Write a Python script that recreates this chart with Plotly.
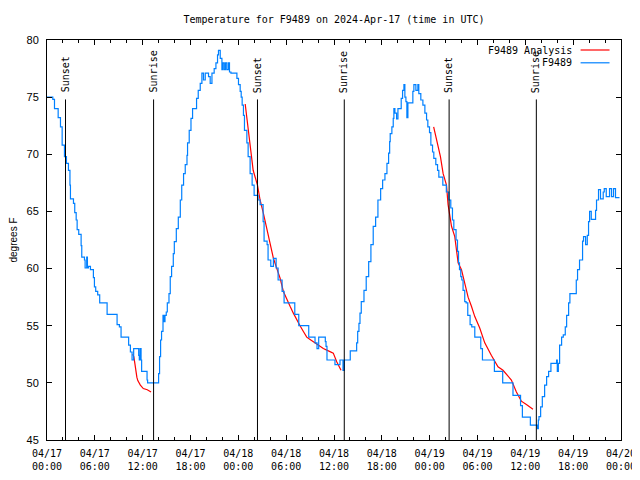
import pandas as pd
import plotly.graph_objects as go

# ---------------- data ----------------
base = pd.Timestamp("2024-04-17 00:00")

# F9489 observed temperature (hours since 04/17 00:00 UTC, deg F)
blue_h = [0.00, 0.73, 0.94, 1.40, 1.69, 1.90, 2.19, 2.44, 2.69, 2.88, 2.94, 3.32, 3.48, 3.66, 3.78, 3.98,
          4.28, 4.36, 4.70, 4.78, 4.98, 5.07, 5.20, 5.45, 5.82, 5.95, 6.11, 6.36, 6.61, 7.54, 8.79, 9.08,
          9.29, 10.24, 10.46, 10.67, 10.87, 11.50, 11.58, 11.67, 11.80, 11.87, 12.55, 12.62, 14.00, 14.12,
          14.25, 14.37, 14.55, 14.68, 14.80, 14.96, 15.09, 15.30, 15.46, 15.63, 15.84, 15.97, 16.22, 16.47,
          16.72, 16.90, 17.13, 17.34, 17.56, 17.63, 17.84, 18.06, 18.26, 18.76, 18.97, 19.22, 19.43, 19.63,
          19.85, 20.26, 20.47, 20.69, 20.97, 21.19, 21.39, 21.51, 21.73, 21.94, 22.06, 22.23, 22.39, 22.56,
          22.76, 22.89, 23.07, 23.82, 24.02, 24.23, 24.36, 24.48, 24.64, 24.77, 25.07, 25.23, 25.48, 25.73,
          25.98, 26.48, 26.73, 27.11, 27.23, 27.61, 27.73, 28.07, 28.40, 28.74, 28.99, 29.49, 29.74, 31.08,
          31.58, 32.83, 33.62, 33.87, 34.08, 34.91, 35.00, 35.12, 36.12, 36.75, 37.13, 37.29, 38.04, 38.84,
          38.97, 39.13, 39.26, 39.42, 39.76, 40.04, 40.35, 40.63, 40.92, 41.22, 41.51, 41.85, 42.10, 42.39,
          42.64, 42.85, 42.98, 43.05, 43.26, 43.43, 43.51, 43.64, 43.85, 44.02, 44.43, 44.60, 44.77, 44.89,
          45.02, 45.14, 45.27, 45.89, 46.02, 46.27, 46.52, 46.64, 46.89, 47.15, 47.40, 47.61, 47.77, 47.98,
          48.15, 48.36, 48.52, 48.77, 48.99, 49.15, 49.65, 50.09, 50.40, 50.65, 50.86, 51.03, 51.31, 51.49,
          51.62, 51.74, 51.90, 52.03, 52.19, 52.40, 52.57, 52.78, 53.07, 53.28, 53.66, 54.41, 54.62, 56.12,
          57.16, 58.45, 59.40, 59.63, 60.63, 61.51, 61.63, 61.71, 61.92, 62.13, 62.42, 62.67, 62.92, 63.21,
          63.92, 64.01, 64.14, 64.30, 64.55, 64.76, 65.01, 65.18, 65.43, 65.59, 66.39, 66.55, 66.80, 67.18,
          67.30, 67.56, 67.77, 67.93, 68.06, 68.27, 68.81, 68.93, 69.18, 69.43, 69.77, 69.90, 70.15, 70.56,
          70.81, 71.06, 71.31, 71.81, 72.00]
blue_v = [75.0, 74.8, 74.0, 73.2, 72.4, 70.8, 69.8, 69.2, 68.6, 67.3, 66.1, 65.7, 64.9, 64.25, 63.4, 63.0,
          62.0, 61.0, 60.75, 60.05, 61.0, 60.05, 60.2, 59.9, 59.2, 58.4, 58.0, 57.7, 57.0, 56.0, 55.1, 54.9,
          54.0, 53.3, 52.7, 52.0, 53.0, 52.4, 52.0, 53.0, 52.0, 51.0, 50.25, 50.0, 50.8, 52.3,
          53.75, 54.5, 55.9, 55.35, 55.9, 56.2, 57.0, 57.8, 59.3, 60.2, 61.3, 62.35, 63.5, 64.5,
          66.0, 67.3, 68.3, 69.1, 69.9, 71.0, 72.1, 73.15, 74.0, 74.9, 75.6, 76.2, 77.1, 76.5,
          77.1, 76.8, 76.2, 77.1, 77.5, 78.0, 78.7, 79.1, 78.4, 77.4, 78.0, 77.4, 78.0, 77.4,
          78.0, 77.2, 77.1, 76.65, 76.1, 75.5, 75.0, 74.3, 73.4, 72.1, 71.0, 69.8, 68.3, 67.3,
          66.4, 66.0, 65.6, 64.1, 62.4, 62.1, 60.75, 60.2, 60.9, 60.05, 59.0, 58.0, 57.0, 56.0,
          55.0, 54.0, 53.5, 53.0, 54.0, 53.6, 53.2, 52.0, 51.6, 52.0, 51.1, 52.0, 52.8,
          53.5, 54.5, 55.2, 56.1, 57.1, 58.1, 59.3, 60.6, 62.1, 63.7, 64.5, 66.0, 67.0, 67.75,
          68.3, 69.2, 70.1, 71.1, 71.8, 72.4, 73.15, 74.0, 73.6, 73.1, 74.0, 74.9, 75.6, 76.1,
          75.0, 74.6, 73.2, 74.5, 75.5, 76.1, 75.6, 76.1, 75.3, 74.75, 74.3, 73.6, 73.0, 72.4,
          71.9, 70.8, 70.2, 69.65, 69.1, 68.6, 68.0, 67.3, 66.7, 66.0, 65.3, 64.25, 63.4, 62.5,
          61.5, 60.5, 59.9, 59.3, 59.0, 58.1, 57.1, 57.0, 55.9, 55.1, 54.9, 54.0, 53.0, 52.0,
          51.0, 50.0, 48.9, 48.0, 47.0, 46.3, 46.0, 46.75, 47.05, 47.9, 48.8, 49.8, 50.55, 51.0,
          51.7, 52.0, 51.0, 51.7, 53.3, 54.0, 54.2, 54.9, 55.9, 57.0, 57.8, 59.0, 59.9, 60.75,
          62.4, 62.8, 62.1, 62.9, 64.1, 65.0, 64.3, 65.1, 66.0, 66.9, 66.1, 66.7, 67.0, 66.3,
          67.0, 66.3, 67.0, 66.2, 66.2]

# F9489 Analysis (three night-time cooling fits)
red1_h = [10.74, 10.89, 11.02, 11.14, 11.27, 11.39, 11.50, 11.71, 12.08, 12.58, 13.05]
red1_v = [52.5, 52.3, 51.7, 51.0, 50.5, 50.2, 50.0, 49.8, 49.5, 49.4, 49.2]
red2_h = [24.86, 25.11, 25.36, 25.65, 25.86, 26.40, 26.73, 27.15, 27.57, 27.99, 28.40, 28.83, 29.24,
          29.65, 30.08, 30.49, 30.90, 31.33, 31.74, 32.16, 32.58, 33.00, 33.41, 34.04, 34.66, 35.29,
          35.91, 36.34, 36.88]
red2_v = [74.4, 73.0, 71.25, 69.8, 68.6, 67.3, 66.0, 64.8, 63.4, 62.1, 60.9, 60.0, 59.15,
          58.0, 57.4, 56.7, 56.1, 55.5, 55.0, 54.5, 54.0, 53.8, 53.6, 53.3, 53.0, 52.8,
          52.6, 51.85, 51.1]
red3_h = [48.50, 49.10, 49.35, 49.69, 50.11, 50.31, 50.74, 51.15, 51.57, 51.99, 52.40, 52.82, 53.24,
          53.66, 54.28, 54.91, 55.75, 56.57, 57.20, 58.25, 58.88, 59.50, 60.13, 60.96]
red3_v = [72.4, 70.7, 69.8, 68.3, 67.3, 65.6, 63.7, 62.8, 60.5, 59.9, 58.6, 57.5, 56.7,
          55.8, 54.8, 53.5, 52.4, 51.4, 51.1, 50.25, 49.2, 48.4, 48.1, 47.7]

# Sunset / sunrise markers
sun_h = [2.32, 13.37, 26.40, 37.29, 50.44, 61.38]
sun_labels = ["Sunset", "Sunrise", "Sunset", "Sunrise", "Sunset", "Sunrise"]

series_names = ["F9489 Analysis", "F9489"]
title_text = "Temperature for F9489 on 2024-Apr-17 (time in UTC)"
y_title = "degrees F"

# ---------------- figure ----------------
def to_t(hours):
    return [base + pd.Timedelta(hours=h) for h in hours]

red_x, red_y = [], []
for hs, vs in [(red1_h, red1_v), (red2_h, red2_v), (red3_h, red3_v)]:
    red_x += to_t(hs) + [None]
    red_y += vs + [None]

RED = "#ff0000"
BLUE = "#0080ff"
MONO = "DejaVu Sans Mono"

fig = go.Figure()
fig.add_trace(go.Scatter(x=red_x, y=red_y, mode="lines", name=series_names[0],
                         line=dict(color=RED, width=1.2), connectgaps=False, showlegend=False))
fig.add_trace(go.Scatter(x=to_t(blue_h), y=blue_v, mode="lines", name=series_names[1],
                         line=dict(color=BLUE, width=1.2, shape="hv"), showlegend=False))

for h, lab in zip(sun_h, sun_labels):
    t = base + pd.Timedelta(hours=h)
    fig.add_shape(type="line", x0=t, x1=t, y0=45, y1=74.8, xref="x", yref="y",
                  line=dict(color="black", width=1))
    fig.add_annotation(x=t, y=75.2, xref="x", yref="y", text=lab, showarrow=False,
                       textangle=-90, xanchor="center", yanchor="bottom", xshift=0,
                       font=dict(family=MONO, size=10, color="black"))

# legend drawn gnuplot-style (text then sample line)
for i, (name, col) in enumerate(zip(series_names, [RED, BLUE])):
    yp = 0.975 - i * 0.032
    fig.add_annotation(x=0.918, y=yp, xref="paper", yref="paper", text=name, showarrow=False,
                       xanchor="right", yanchor="middle",
                       font=dict(family=MONO, size=10, color="black"))
    fig.add_shape(type="line", x0=0.9296, x1=0.98, y0=yp, y1=yp, xref="paper", yref="paper",
                  line=dict(color=col, width=1.2))

# the page body adds an 8px offset, so margins are compensated
fig.update_layout(
    width=640, height=480,
    margin=dict(l=39, r=27, t=32, b=48, autoexpand=False),
    paper_bgcolor="white", plot_bgcolor="white",
    title=dict(text=title_text, x=326 / 640, xanchor="center", y=1 - 11 / 480,
               yanchor="middle", font=dict(family=MONO, size=10, color="black")),
    showlegend=False,
)
fig.update_xaxes(
    type="date",
    range=[base, base + pd.Timedelta(hours=72)],
    dtick=6 * 3600 * 1000, tick0=base,
    tickformat="%m/%d<br>%H:%M",
    ticks="inside", ticklen=5, tickcolor="black", tickwidth=1,
    minor=dict(dtick=2 * 3600 * 1000, ticks="inside", ticklen=3, tickcolor="black"),
    showline=True, linecolor="black", linewidth=1, mirror="allticks",
    showgrid=False, zeroline=False,
    tickfont=dict(family=MONO, size=10, color="black"),
    ticklabelstandoff=4,
)
fig.update_yaxes(
    range=[45, 80], dtick=5, tick0=45,
    ticks="inside", ticklen=5, tickcolor="black", tickwidth=1,
    showline=True, linecolor="black", linewidth=1, mirror="allticks",
    showgrid=False, zeroline=False,
    tickfont=dict(family="Liberation Sans", size=11, color="black"),
    ticklabelstandoff=5,
    title=dict(text=y_title, font=dict(family="Liberation Sans", size=10, color="black"), standoff=10),
)

fig.write_html("out.html")
